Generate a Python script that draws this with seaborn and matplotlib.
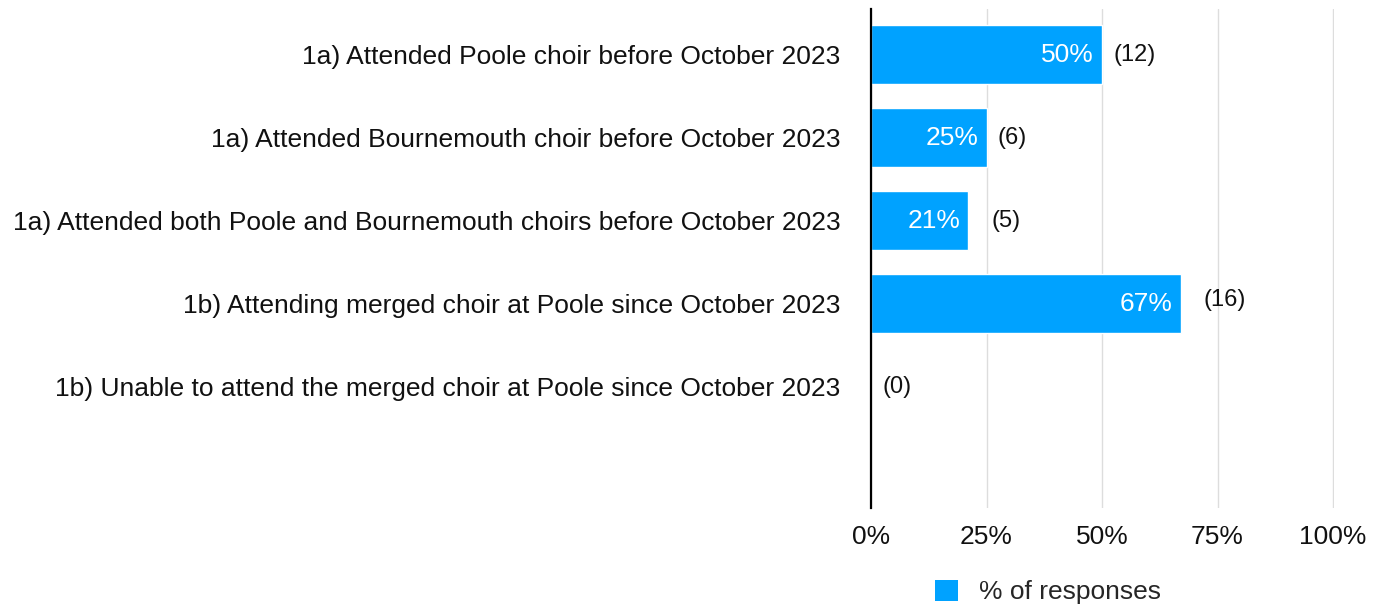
import matplotlib
matplotlib.use("Agg")
import matplotlib.pyplot as plt
import matplotlib.transforms as mtransforms
from matplotlib.patches import Patch
import seaborn as sns
import pandas as pd

# data
categories = [
    "1a) Attended Poole choir before October 2023",
    "1a) Attended Bournemouth choir before October 2023",
    "1a) Attended both Poole and Bournemouth choirs before October 2023",
    "1b) Attending merged choir at Poole since October 2023",
    "1b) Unable to attend the merged choir at Poole since October 2023",
]
percent = [50, 25, 21, 67, 0]
counts = [12, 6, 5, 16, 0]

x_ticks = [0, 25, 50, 75, 100]
legend_label = "% of responses"

# count label offsets from bar end, in pixels (as in the original layout)
count_dx = [11, 11, 23, 23, 11]
count_dy = [0, 0, 0, 4, 0]

bar_color = "#00A2FF"
fs = 19

sns.set_theme(style="white")
plt.rcParams["font.family"] = ["Liberation Sans", "DejaVu Sans"]

df = pd.DataFrame({"category": categories, "percent": percent, "count": counts})

fig = plt.figure(figsize=(13.76, 6.07), dpi=100)
ax = fig.add_axes([871 / 1376, 1 - 508 / 607, 463 / 1376, 499 / 607])

sns.barplot(data=df, y="category", x="percent", color=bar_color,
            width=0.71, saturation=1, ax=ax, zorder=3)

ax.set_xlim(0, 100.2)
ax.set_ylim(5.46, -0.55)
ax.set_xticks(x_ticks)
ax.set_xticklabels([f"{t}%" for t in x_ticks], fontsize=fs, color="#111111")
ax.tick_params(axis="x", length=0, pad=12)
ax.tick_params(axis="y", length=0, pad=22, labelsize=fs, labelcolor="#111111")
ax.set_xlabel("")
ax.set_ylabel("")
ax.xaxis.grid(True, color="#dddddd", linewidth=1, zorder=0)
ax.yaxis.grid(False)

for side in ["top", "right", "bottom"]:
    ax.spines[side].set_visible(False)
ax.spines["left"].set_color("black")
ax.spines["left"].set_linewidth(1.6)
ax.spines["left"].set_zorder(5)

for i, (p, c) in enumerate(zip(percent, counts)):
    if p > 0:
        inside = mtransforms.offset_copy(ax.transData, fig=fig, x=-8, y=0, units="dots")
        ax.text(p, i, f"{p}%", transform=inside, ha="right", va="center",
                color="white", fontsize=fs, zorder=6)
    off = mtransforms.offset_copy(ax.transData, fig=fig, x=count_dx[i], y=count_dy[i], units="dots")
    ax.text(p, i, f"({c})", transform=off, ha="left", va="center",
            color="#111111", fontsize=17, zorder=6)

handles = [Patch(facecolor=bar_color, edgecolor="none", label=legend_label)]
fig.legend(handles=handles, loc="center", bbox_to_anchor=(1048 / 1376, 1 - 592 / 607),
           frameon=False, fontsize=fs, handlelength=0.85, handleheight=0.85,
           handletextpad=0.8)

fig.savefig("out.png", dpi=100)
